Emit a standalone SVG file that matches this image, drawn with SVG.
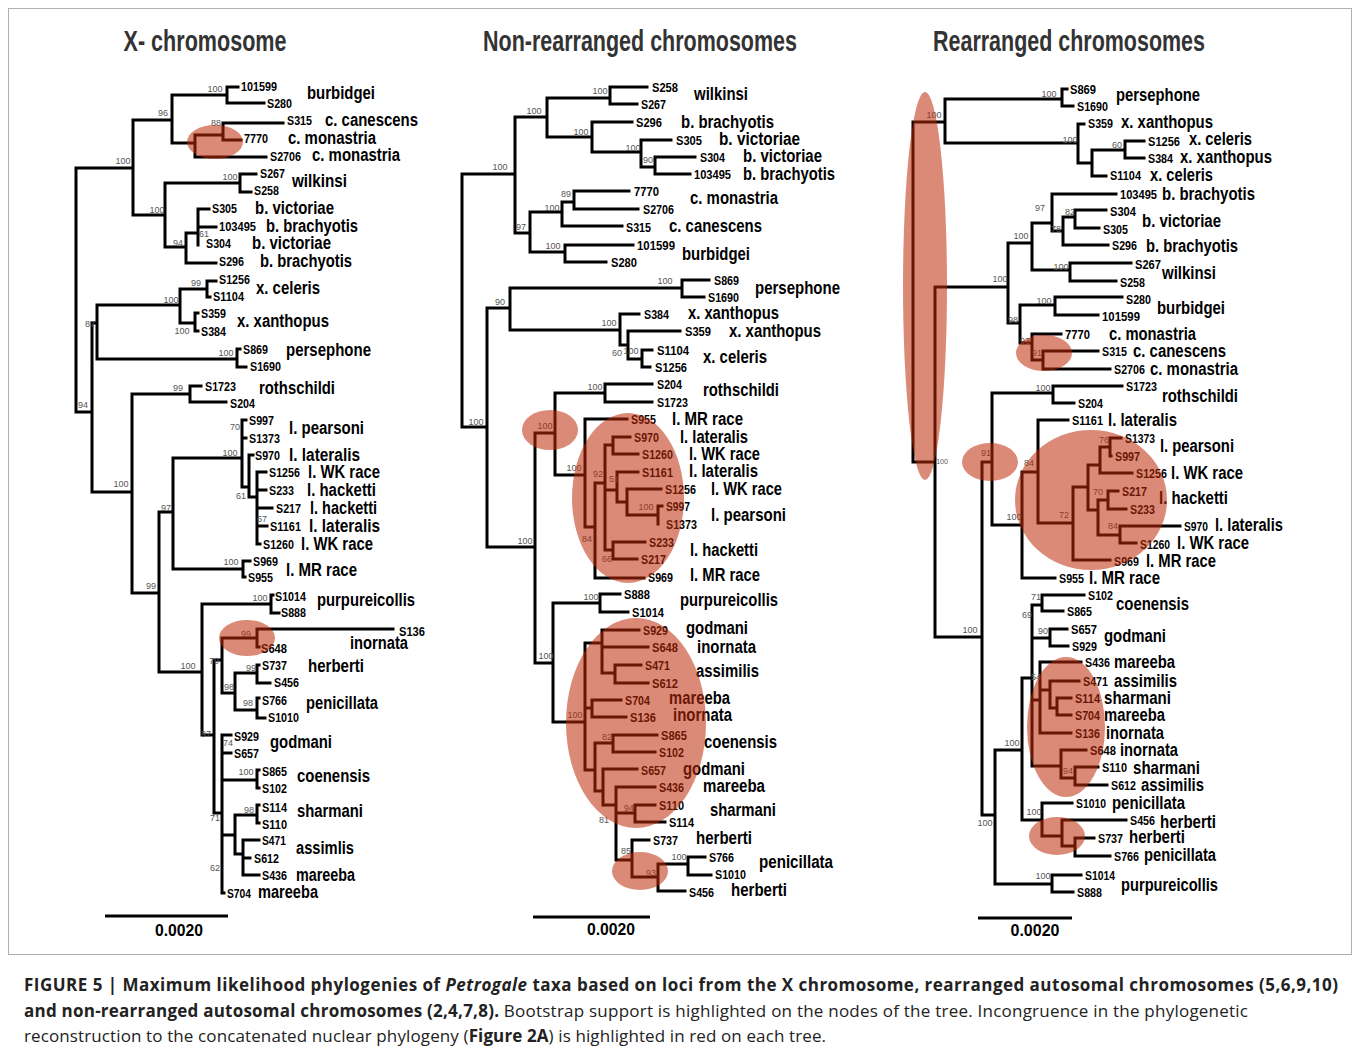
<svg xmlns="http://www.w3.org/2000/svg" width="1358" height="1053" viewBox="0 0 1358 1053">
<style>
.br{fill:none;stroke:#000;stroke-width:3;stroke-linecap:square;stroke-linejoin:miter}
.s{font-family:"Liberation Sans","DejaVu Sans",sans-serif;font-weight:bold;font-size:13px;fill:#000}
.p{font-family:"Liberation Sans","DejaVu Sans",sans-serif;font-weight:bold;font-size:18px;fill:#000}
.b{font-family:"Liberation Sans","DejaVu Sans",sans-serif;font-size:9px;fill:#555;text-anchor:middle}
.h{font-family:"Liberation Sans","DejaVu Sans",sans-serif;font-weight:bold;font-size:30px;fill:#333;text-anchor:middle}
.sb{font-family:"Liberation Sans","DejaVu Sans",sans-serif;font-weight:bold;font-size:16px;fill:#000;text-anchor:middle}
.c{font-family:"Open Sans","Liberation Sans",sans-serif;font-size:17px;fill:#222}
.cb{font-weight:bold}
.hl{fill:#be2a08;opacity:0.55}
.sc{fill:none;stroke:#000;stroke-width:3}
</style>
<rect x="0" y="0" width="1358" height="1053" fill="#fff"/>
<rect x="8.5" y="8.5" width="1343" height="946" fill="none" stroke="#b0b0b0" stroke-width="1"/>

<g id="headers">
<text class="h" x="205" y="51" textLength="163" lengthAdjust="spacingAndGlyphs">X- chromosome</text>
<text class="h" x="640" y="51" textLength="314" lengthAdjust="spacingAndGlyphs">Non-rearranged chromosomes</text>
<text class="h" x="1069" y="51" textLength="272" lengthAdjust="spacingAndGlyphs">Rearranged chromosomes</text>
</g>

<!-- TREE 1 -->
<g id="tree1">
<g id="t1-connectors">
<path class="br" d="M76 168V412M76 168H133M133 120V215M133 120H172M172 95V143M172 95H227M227 87V103M227 87H238M227 103H264M172 143H195M195 135V157M195 135H223M223 123V140M223 123H283M223 140H241M195 157H266M133 215H165M165 183V247M165 183H240M240 174V192M240 174H256M240 192H251M165 247H186M186 233V263M186 233H198M198 209V245M198 209H209M198 227H216M186 263H216M76 412H92M92 323V492M92 323H97M97 305V359M97 305H180M180 289V323M180 289H207M207 281V297M207 281H216M207 297H210M180 323H195M195 313V331M195 313H198M195 331H198M97 359H237M237 349V367M237 349H240M237 367H246M92 492H132M132 394V593M132 394H190M190 386V402M190 386H201M190 402H226M132 593H159M159 512V672M159 512H173M173 458V569M173 458H242M242 420V487M242 420H246M242 438H246M242 487H249M249 455V497M249 455H253M249 497H257M257 472V544M257 472H266M257 490H266M257 508H272M257 526H267M257 544H260M173 569H243M243 561V577M243 561H250M243 577H245M159 672H202M202 604V735M202 604H271M271 595V613M271 595H273M271 613H279M202 735H214M214 660V813M214 660H222M222 638V693M222 638H257M257 629V647M257 629H393M257 647H259M222 693H235M235 673V710M235 673H257M257 665V683M257 665H259M257 683H270M235 710H257M257 698V718M257 698H259M257 718H265M214 813H222M222 735V893M222 735H231M222 753H231M222 780H257M257 770V788M257 770H259M257 788H259M222 835H235M235 815V854M235 815H257M257 805V823M257 805H259M257 823H259M235 854H243M243 840V875M243 840H259M243 858H250M243 875H259M222 893H224"/>
</g>
<g id="t1-support">
<text class="b" x="215" y="92">100</text><text class="b" x="163" y="116">96</text><text class="b" x="216" y="126">88</text><text class="b" x="123" y="164">100</text><text class="b" x="230" y="180">100</text><text class="b" x="157" y="213">100</text><text class="b" x="204" y="237">61</text><text class="b" x="178" y="246">94</text><text class="b" x="196" y="286">99</text><text class="b" x="171" y="303">100</text><text class="b" x="90" y="327">87</text><text class="b" x="182" y="334">100</text><text class="b" x="226" y="356">100</text><text class="b" x="178" y="391">99</text><text class="b" x="83" y="408">94</text><text class="b" x="235" y="430">70</text><text class="b" x="230" y="456">100</text><text class="b" x="121" y="487">100</text><text class="b" x="241" y="499">61</text><text class="b" x="166" y="511">97</text><text class="b" x="262" y="522">67</text><text class="b" x="231" y="565">100</text><text class="b" x="151" y="589">99</text><text class="b" x="260" y="601">100</text><text class="b" x="246" y="637">99</text><text class="b" x="214" y="664">79</text><text class="b" x="188" y="669">100</text><text class="b" x="251" y="671">99</text><text class="b" x="229" y="690">98</text><text class="b" x="248" y="706">98</text><text class="b" x="206" y="737">97</text><text class="b" x="228" y="746">74</text><text class="b" x="246" y="775">100</text><text class="b" x="249" y="813">98</text><text class="b" x="215" y="821">71</text><text class="b" x="215" y="871">62</text>
</g>
<g id="t1-burbidgei"><text class="s" x="241" y="91" textLength="36" lengthAdjust="spacingAndGlyphs">101599</text><text class="s" x="267" y="108" textLength="25" lengthAdjust="spacingAndGlyphs">S280</text><text class="p" x="307" y="99" textLength="68" lengthAdjust="spacingAndGlyphs">burbidgei</text></g>
<g id="t1-c-canescens"><text class="s" x="287" y="125" textLength="25" lengthAdjust="spacingAndGlyphs">S315</text><text class="p" x="325" y="126" textLength="93" lengthAdjust="spacingAndGlyphs">c. canescens</text></g>
<g id="t1-c-monastria-1"><text class="s" x="244" y="143" textLength="24" lengthAdjust="spacingAndGlyphs">7770</text><text class="p" x="288" y="144" textLength="88" lengthAdjust="spacingAndGlyphs">c. monastria</text></g>
<g id="t1-c-monastria-2"><text class="s" x="270" y="161" textLength="31" lengthAdjust="spacingAndGlyphs">S2706</text><text class="p" x="312" y="161" textLength="88" lengthAdjust="spacingAndGlyphs">c. monastria</text></g>
<g id="t1-wilkinsi"><text class="s" x="260" y="178" textLength="25" lengthAdjust="spacingAndGlyphs">S267</text><text class="s" x="254" y="195" textLength="25" lengthAdjust="spacingAndGlyphs">S258</text><text class="p" x="292" y="187" textLength="55" lengthAdjust="spacingAndGlyphs">wilkinsi</text></g>
<g id="t1-b-victoriae-1"><text class="s" x="212" y="213" textLength="25" lengthAdjust="spacingAndGlyphs">S305</text><text class="p" x="255" y="214" textLength="79" lengthAdjust="spacingAndGlyphs">b. victoriae</text></g>
<g id="t1-b-brachyotis-1"><text class="s" x="219" y="231" textLength="37" lengthAdjust="spacingAndGlyphs">103495</text><text class="p" x="266" y="232" textLength="92" lengthAdjust="spacingAndGlyphs">b. brachyotis</text></g>
<g id="t1-b-victoriae-2"><text class="s" x="206" y="248" textLength="25" lengthAdjust="spacingAndGlyphs">S304</text><text class="p" x="252" y="249" textLength="79" lengthAdjust="spacingAndGlyphs">b. victoriae</text></g>
<g id="t1-b-brachyotis-2"><text class="s" x="219" y="266" textLength="25" lengthAdjust="spacingAndGlyphs">S296</text><text class="p" x="260" y="267" textLength="92" lengthAdjust="spacingAndGlyphs">b. brachyotis</text></g>
<g id="t1-x-celeris"><text class="s" x="219" y="284" textLength="31" lengthAdjust="spacingAndGlyphs">S1256</text><text class="s" x="213" y="301" textLength="31" lengthAdjust="spacingAndGlyphs">S1104</text><text class="p" x="256" y="294" textLength="64" lengthAdjust="spacingAndGlyphs">x. celeris</text></g>
<g id="t1-x-xanthopus"><text class="s" x="201" y="318" textLength="25" lengthAdjust="spacingAndGlyphs">S359</text><text class="s" x="201" y="336" textLength="25" lengthAdjust="spacingAndGlyphs">S384</text><text class="p" x="237" y="327" textLength="92" lengthAdjust="spacingAndGlyphs">x. xanthopus</text></g>
<g id="t1-persephone"><text class="s" x="243" y="354" textLength="25" lengthAdjust="spacingAndGlyphs">S869</text><text class="s" x="250" y="371" textLength="31" lengthAdjust="spacingAndGlyphs">S1690</text><text class="p" x="286" y="356" textLength="85" lengthAdjust="spacingAndGlyphs">persephone</text></g>
<g id="t1-rothschildi"><text class="s" x="205" y="391" textLength="31" lengthAdjust="spacingAndGlyphs">S1723</text><text class="s" x="230" y="408" textLength="25" lengthAdjust="spacingAndGlyphs">S204</text><text class="p" x="259" y="394" textLength="76" lengthAdjust="spacingAndGlyphs">rothschildi</text></g>
<g id="t1-l-pearsoni"><text class="s" x="249" y="425" textLength="25" lengthAdjust="spacingAndGlyphs">S997</text><text class="s" x="249" y="443" textLength="31" lengthAdjust="spacingAndGlyphs">S1373</text><text class="p" x="289" y="434" textLength="75" lengthAdjust="spacingAndGlyphs">l. pearsoni</text></g>
<g id="t1-l-lateralis-1"><text class="s" x="255" y="460" textLength="25" lengthAdjust="spacingAndGlyphs">S970</text><text class="p" x="289" y="461" textLength="71" lengthAdjust="spacingAndGlyphs">l. lateralis</text></g>
<g id="t1-l-wk-1"><text class="s" x="269" y="477" textLength="31" lengthAdjust="spacingAndGlyphs">S1256</text><text class="p" x="308" y="478" textLength="72" lengthAdjust="spacingAndGlyphs">l. WK race</text></g>
<g id="t1-l-hacketti-1"><text class="s" x="269" y="495" textLength="25" lengthAdjust="spacingAndGlyphs">S233</text><text class="p" x="307" y="496" textLength="69" lengthAdjust="spacingAndGlyphs">l. hacketti</text></g>
<g id="t1-l-hacketti-2"><text class="s" x="276" y="513" textLength="25" lengthAdjust="spacingAndGlyphs">S217</text><text class="p" x="310" y="514" textLength="67" lengthAdjust="spacingAndGlyphs">l. hacketti</text></g>
<g id="t1-l-lateralis-2"><text class="s" x="270" y="531" textLength="31" lengthAdjust="spacingAndGlyphs">S1161</text><text class="p" x="309" y="532" textLength="71" lengthAdjust="spacingAndGlyphs">l. lateralis</text></g>
<g id="t1-l-wk-2"><text class="s" x="263" y="549" textLength="31" lengthAdjust="spacingAndGlyphs">S1260</text><text class="p" x="301" y="550" textLength="72" lengthAdjust="spacingAndGlyphs">l. WK race</text></g>
<g id="t1-l-mr"><text class="s" x="253" y="566" textLength="25" lengthAdjust="spacingAndGlyphs">S969</text><text class="s" x="248" y="582" textLength="25" lengthAdjust="spacingAndGlyphs">S955</text><text class="p" x="286" y="576" textLength="71" lengthAdjust="spacingAndGlyphs">l. MR race</text></g>
<g id="t1-purpureicollis"><text class="s" x="275" y="601" textLength="31" lengthAdjust="spacingAndGlyphs">S1014</text><text class="s" x="281" y="617" textLength="25" lengthAdjust="spacingAndGlyphs">S888</text><text class="p" x="317" y="606" textLength="98" lengthAdjust="spacingAndGlyphs">purpureicollis</text></g>
<g id="t1-inornata"><text class="s" x="399" y="636" textLength="26" lengthAdjust="spacingAndGlyphs">S136</text><text class="s" x="261" y="653" textLength="26" lengthAdjust="spacingAndGlyphs">S648</text><text class="p" x="350" y="649" textLength="58" lengthAdjust="spacingAndGlyphs">inornata</text></g>
<g id="t1-herberti"><text class="s" x="262" y="670" textLength="25" lengthAdjust="spacingAndGlyphs">S737</text><text class="s" x="274" y="687" textLength="25" lengthAdjust="spacingAndGlyphs">S456</text><text class="p" x="308" y="672" textLength="56" lengthAdjust="spacingAndGlyphs">herberti</text></g>
<g id="t1-penicillata"><text class="s" x="262" y="705" textLength="25" lengthAdjust="spacingAndGlyphs">S766</text><text class="s" x="268" y="722" textLength="31" lengthAdjust="spacingAndGlyphs">S1010</text><text class="p" x="306" y="709" textLength="72" lengthAdjust="spacingAndGlyphs">penicillata</text></g>
<g id="t1-godmani"><text class="s" x="234" y="741" textLength="25" lengthAdjust="spacingAndGlyphs">S929</text><text class="s" x="234" y="758" textLength="25" lengthAdjust="spacingAndGlyphs">S657</text><text class="p" x="270" y="748" textLength="62" lengthAdjust="spacingAndGlyphs">godmani</text></g>
<g id="t1-coenensis"><text class="s" x="262" y="776" textLength="25" lengthAdjust="spacingAndGlyphs">S865</text><text class="s" x="262" y="793" textLength="25" lengthAdjust="spacingAndGlyphs">S102</text><text class="p" x="297" y="782" textLength="73" lengthAdjust="spacingAndGlyphs">coenensis</text></g>
<g id="t1-sharmani"><text class="s" x="262" y="812" textLength="25" lengthAdjust="spacingAndGlyphs">S114</text><text class="s" x="262" y="829" textLength="25" lengthAdjust="spacingAndGlyphs">S110</text><text class="p" x="297" y="817" textLength="66" lengthAdjust="spacingAndGlyphs">sharmani</text></g>
<g id="t1-assimlis"><text class="s" x="262" y="845" textLength="24" lengthAdjust="spacingAndGlyphs">S471</text><text class="s" x="254" y="863" textLength="25" lengthAdjust="spacingAndGlyphs">S612</text><text class="p" x="296" y="854" textLength="58" lengthAdjust="spacingAndGlyphs">assimlis</text></g>
<g id="t1-mareeba-1"><text class="s" x="262" y="880" textLength="25" lengthAdjust="spacingAndGlyphs">S436</text><text class="p" x="296" y="881" textLength="59" lengthAdjust="spacingAndGlyphs">mareeba</text></g>
<g id="t1-mareeba-2"><text class="s" x="227" y="898" textLength="24" lengthAdjust="spacingAndGlyphs">S704</text><text class="p" x="258" y="898" textLength="60" lengthAdjust="spacingAndGlyphs">mareeba</text></g>
<g id="t1-scale"><path class="sc" d="M105 916H228"/><text class="sb" x="179" y="936" textLength="48" lengthAdjust="spacingAndGlyphs">0.0020</text></g>
<g id="t1-highlights"><ellipse class="hl" cx="215" cy="142" rx="28" ry="17"/><ellipse class="hl" cx="247" cy="638" rx="28" ry="18"/></g>
</g>

<!-- TREE 2 -->
<g id="tree2">
<g id="t2-connectors">
<path class="br" d="M462 174V427M462 174H515M515 117V233M515 117H547M547 98V137M547 98H610M610 87V104M610 87H647M610 104H637M547 137H592M592 122V152M592 122H632M592 152H641M641 140V167M641 140H671M641 167H655M655 157V174M655 157H695M655 174H690M515 233H530M530 212V252M530 212H562M562 202V226M562 202H574M574 191V209M574 191H629M574 209H638M562 226H622M530 252H565M565 245V262M565 245H633M565 262H606M462 427H487M487 308V547M487 308H510M510 288V330M510 288H682M682 280V297M682 280H709M682 297H704M510 330H620M620 314V345M620 314H639M620 345H628M628 331V359M628 331H680M628 359H642M642 350V367M642 350H652M642 367H650M487 547H535M535 433V663M535 433H555M555 393V475M555 393H605M605 384V402M605 384H652M605 402H652M555 475H585M585 419V527M585 419H627M585 527H595M595 483V578M595 483H605M605 445V550M605 445H613M613 437V454M613 437H630M613 454H638M605 490H617M617 472V502M617 472H638M617 502H627M627 489V515M627 489H661M627 515H658M658 506V524M658 506H662M605 550H613M613 542V559M613 542H645M613 559H637M595 578H644M535 663H553M553 603V722M553 603H600M600 594V612M600 594H620M600 612H628M553 722H585M585 643V770M585 643H602M602 630V673M602 630H639M602 647H648M602 673H615M615 665V683M615 665H641M615 683H648M585 708H592M592 700V717M592 700H621M592 717H626M585 770H595M595 743V791M595 743H613M613 735V752M613 735H657M613 752H655M595 791H603M603 769V805M603 769H637M603 805H616M616 787V860M616 787H655M616 813H635M635 805V822M635 805H655M635 822H665M616 860H632M632 840V877M632 840H649M632 877H658M658 864V891M658 864H688M688 857V875M688 857H705M688 875H711M658 891H685"/>
</g>
<g id="t2-support">
<text class="b" x="600" y="94">100</text><text class="b" x="534" y="114">100</text><text class="b" x="581" y="135">100</text><text class="b" x="633" y="151">100</text><text class="b" x="648" y="163">90</text><text class="b" x="500" y="170">100</text><text class="b" x="566" y="197">89</text><text class="b" x="552" y="211">100</text><text class="b" x="521" y="230">97</text><text class="b" x="553" y="249">100</text><text class="b" x="665" y="284">100</text><text class="b" x="500" y="305">90</text><text class="b" x="609" y="326">100</text><text class="b" x="617" y="356">60</text><text class="b" x="631" y="354">100</text><text class="b" x="595" y="390">100</text><text class="b" x="476" y="425">100</text><text class="b" x="545" y="429">100</text><text class="b" x="574" y="471">100</text><text class="b" x="598" y="477">92</text><text class="b" x="614" y="482">51</text><text class="b" x="646" y="510">100</text><text class="b" x="525" y="544">100</text><text class="b" x="587" y="542">84</text><text class="b" x="607" y="562">66</text><text class="b" x="591" y="600">100</text><text class="b" x="546" y="659">100</text><text class="b" x="575" y="718">100</text><text class="b" x="607" y="740">82</text><text class="b" x="629" y="811">94</text><text class="b" x="604" y="823">81</text><text class="b" x="626" y="854">85</text><text class="b" x="679" y="860">100</text><text class="b" x="651" y="876">93</text>
</g>
<g id="t2-wilkinsi"><text class="s" x="652" y="92" textLength="26" lengthAdjust="spacingAndGlyphs">S258</text><text class="s" x="641" y="109" textLength="25" lengthAdjust="spacingAndGlyphs">S267</text><text class="p" x="694" y="100" textLength="54" lengthAdjust="spacingAndGlyphs">wilkinsi</text></g>
<g id="t2-b-brachyotis-1"><text class="s" x="636" y="127" textLength="26" lengthAdjust="spacingAndGlyphs">S296</text><text class="p" x="681" y="128" textLength="93" lengthAdjust="spacingAndGlyphs">b. brachyotis</text></g>
<g id="t2-b-victoriae-1"><text class="s" x="676" y="145" textLength="26" lengthAdjust="spacingAndGlyphs">S305</text><text class="p" x="719" y="145" textLength="81" lengthAdjust="spacingAndGlyphs">b. victoriae</text></g>
<g id="t2-b-victoriae-2"><text class="s" x="700" y="162" textLength="25" lengthAdjust="spacingAndGlyphs">S304</text><text class="p" x="743" y="162" textLength="79" lengthAdjust="spacingAndGlyphs">b. victoriae</text></g>
<g id="t2-b-brachyotis-2"><text class="s" x="694" y="179" textLength="37" lengthAdjust="spacingAndGlyphs">103495</text><text class="p" x="743" y="180" textLength="92" lengthAdjust="spacingAndGlyphs">b. brachyotis</text></g>
<g id="t2-c-monastria"><text class="s" x="634" y="196" textLength="25" lengthAdjust="spacingAndGlyphs">7770</text><text class="s" x="643" y="214" textLength="31" lengthAdjust="spacingAndGlyphs">S2706</text><text class="p" x="690" y="204" textLength="88" lengthAdjust="spacingAndGlyphs">c. monastria</text></g>
<g id="t2-c-canescens"><text class="s" x="626" y="232" textLength="25" lengthAdjust="spacingAndGlyphs">S315</text><text class="p" x="669" y="232" textLength="93" lengthAdjust="spacingAndGlyphs">c. canescens</text></g>
<g id="t2-burbidgei"><text class="s" x="637" y="250" textLength="38" lengthAdjust="spacingAndGlyphs">101599</text><text class="s" x="611" y="267" textLength="26" lengthAdjust="spacingAndGlyphs">S280</text><text class="p" x="682" y="260" textLength="68" lengthAdjust="spacingAndGlyphs">burbidgei</text></g>
<g id="t2-persephone"><text class="s" x="714" y="285" textLength="25" lengthAdjust="spacingAndGlyphs">S869</text><text class="s" x="708" y="302" textLength="31" lengthAdjust="spacingAndGlyphs">S1690</text><text class="p" x="755" y="294" textLength="85" lengthAdjust="spacingAndGlyphs">persephone</text></g>
<g id="t2-x-xanthopus-1"><text class="s" x="644" y="319" textLength="25" lengthAdjust="spacingAndGlyphs">S384</text><text class="p" x="688" y="319" textLength="91" lengthAdjust="spacingAndGlyphs">x. xanthopus</text></g>
<g id="t2-x-xanthopus-2"><text class="s" x="685" y="336" textLength="26" lengthAdjust="spacingAndGlyphs">S359</text><text class="p" x="729" y="337" textLength="92" lengthAdjust="spacingAndGlyphs">x. xanthopus</text></g>
<g id="t2-x-celeris"><text class="s" x="657" y="355" textLength="32" lengthAdjust="spacingAndGlyphs">S1104</text><text class="s" x="655" y="372" textLength="32" lengthAdjust="spacingAndGlyphs">S1256</text><text class="p" x="703" y="363" textLength="64" lengthAdjust="spacingAndGlyphs">x. celeris</text></g>
<g id="t2-rothschildi"><text class="s" x="657" y="389" textLength="25" lengthAdjust="spacingAndGlyphs">S204</text><text class="s" x="657" y="407" textLength="31" lengthAdjust="spacingAndGlyphs">S1723</text><text class="p" x="703" y="396" textLength="76" lengthAdjust="spacingAndGlyphs">rothschildi</text></g>
<g id="t2-l-mr-1"><text class="s" x="631" y="424" textLength="25" lengthAdjust="spacingAndGlyphs">S955</text><text class="p" x="672" y="425" textLength="71" lengthAdjust="spacingAndGlyphs">l. MR race</text></g>
<g id="t2-l-lateralis-1"><text class="s" x="634" y="442" textLength="25" lengthAdjust="spacingAndGlyphs">S970</text><text class="p" x="680" y="443" textLength="68" lengthAdjust="spacingAndGlyphs">l. lateralis</text></g>
<g id="t2-l-wk-1"><text class="s" x="642" y="459" textLength="31" lengthAdjust="spacingAndGlyphs">S1260</text><text class="p" x="689" y="460" textLength="71" lengthAdjust="spacingAndGlyphs">l. WK race</text></g>
<g id="t2-l-lateralis-2"><text class="s" x="642" y="477" textLength="31" lengthAdjust="spacingAndGlyphs">S1161</text><text class="p" x="689" y="477" textLength="69" lengthAdjust="spacingAndGlyphs">l. lateralis</text></g>
<g id="t2-l-wk-2"><text class="s" x="665" y="494" textLength="31" lengthAdjust="spacingAndGlyphs">S1256</text><text class="p" x="711" y="495" textLength="71" lengthAdjust="spacingAndGlyphs">l. WK race</text></g>
<g id="t2-l-pearsoni"><text class="s" x="666" y="511" textLength="24" lengthAdjust="spacingAndGlyphs">S997</text><text class="s" x="666" y="529" textLength="31" lengthAdjust="spacingAndGlyphs">S1373</text><text class="p" x="711" y="521" textLength="75" lengthAdjust="spacingAndGlyphs">l. pearsoni</text></g>
<g id="t2-l-hacketti"><text class="s" x="649" y="547" textLength="25" lengthAdjust="spacingAndGlyphs">S233</text><text class="s" x="641" y="564" textLength="25" lengthAdjust="spacingAndGlyphs">S217</text><text class="p" x="690" y="556" textLength="68" lengthAdjust="spacingAndGlyphs">l. hacketti</text></g>
<g id="t2-l-mr-2"><text class="s" x="648" y="582" textLength="25" lengthAdjust="spacingAndGlyphs">S969</text><text class="p" x="690" y="581" textLength="70" lengthAdjust="spacingAndGlyphs">l. MR race</text></g>
<g id="t2-purpureicollis"><text class="s" x="624" y="599" textLength="26" lengthAdjust="spacingAndGlyphs">S888</text><text class="s" x="632" y="617" textLength="32" lengthAdjust="spacingAndGlyphs">S1014</text><text class="p" x="680" y="606" textLength="98" lengthAdjust="spacingAndGlyphs">purpureicollis</text></g>
<g id="t2-godmani-1"><text class="s" x="643" y="635" textLength="25" lengthAdjust="spacingAndGlyphs">S929</text><text class="p" x="686" y="634" textLength="62" lengthAdjust="spacingAndGlyphs">godmani</text></g>
<g id="t2-inornata-1"><text class="s" x="652" y="652" textLength="26" lengthAdjust="spacingAndGlyphs">S648</text><text class="p" x="697" y="653" textLength="59" lengthAdjust="spacingAndGlyphs">inornata</text></g>
<g id="t2-assimilis"><text class="s" x="645" y="670" textLength="25" lengthAdjust="spacingAndGlyphs">S471</text><text class="s" x="652" y="688" textLength="26" lengthAdjust="spacingAndGlyphs">S612</text><text class="p" x="696" y="677" textLength="63" lengthAdjust="spacingAndGlyphs">assimilis</text></g>
<g id="t2-mareeba-1"><text class="s" x="625" y="705" textLength="25" lengthAdjust="spacingAndGlyphs">S704</text><text class="p" x="669" y="704" textLength="61" lengthAdjust="spacingAndGlyphs">mareeba</text></g>
<g id="t2-inornata-2"><text class="s" x="630" y="722" textLength="26" lengthAdjust="spacingAndGlyphs">S136</text><text class="p" x="673" y="721" textLength="59" lengthAdjust="spacingAndGlyphs">inornata</text></g>
<g id="t2-coenensis"><text class="s" x="661" y="740" textLength="26" lengthAdjust="spacingAndGlyphs">S865</text><text class="s" x="659" y="757" textLength="25" lengthAdjust="spacingAndGlyphs">S102</text><text class="p" x="704" y="748" textLength="73" lengthAdjust="spacingAndGlyphs">coenensis</text></g>
<g id="t2-godmani-2"><text class="s" x="641" y="775" textLength="25" lengthAdjust="spacingAndGlyphs">S657</text><text class="p" x="683" y="775" textLength="62" lengthAdjust="spacingAndGlyphs">godmani</text></g>
<g id="t2-mareeba-2"><text class="s" x="659" y="792" textLength="25" lengthAdjust="spacingAndGlyphs">S436</text><text class="p" x="703" y="792" textLength="62" lengthAdjust="spacingAndGlyphs">mareeba</text></g>
<g id="t2-sharmani"><text class="s" x="659" y="810" textLength="25" lengthAdjust="spacingAndGlyphs">S110</text><text class="s" x="669" y="827" textLength="25" lengthAdjust="spacingAndGlyphs">S114</text><text class="p" x="710" y="816" textLength="66" lengthAdjust="spacingAndGlyphs">sharmani</text></g>
<g id="t2-herberti-1"><text class="s" x="653" y="845" textLength="25" lengthAdjust="spacingAndGlyphs">S737</text><text class="p" x="696" y="844" textLength="56" lengthAdjust="spacingAndGlyphs">herberti</text></g>
<g id="t2-penicillata"><text class="s" x="709" y="862" textLength="25" lengthAdjust="spacingAndGlyphs">S766</text><text class="s" x="715" y="879" textLength="31" lengthAdjust="spacingAndGlyphs">S1010</text><text class="p" x="759" y="868" textLength="74" lengthAdjust="spacingAndGlyphs">penicillata</text></g>
<g id="t2-herberti-2"><text class="s" x="689" y="897" textLength="25" lengthAdjust="spacingAndGlyphs">S456</text><text class="p" x="731" y="896" textLength="56" lengthAdjust="spacingAndGlyphs">herberti</text></g>
<g id="t2-scale"><path class="sc" d="M533 917H650"/><text class="sb" x="611" y="935" textLength="48" lengthAdjust="spacingAndGlyphs">0.0020</text></g>
<g id="t2-highlights"><ellipse class="hl" cx="550" cy="430" rx="28" ry="20"/><ellipse class="hl" cx="628" cy="498" rx="56" ry="85"/><ellipse class="hl" cx="636" cy="723" rx="70" ry="105"/><ellipse class="hl" cx="640" cy="871" rx="28" ry="19"/></g>
</g>

<!-- TREE 3 -->
<g id="tree3">
<g id="t3-connectors">
<path class="br" d="M913 122V462M913 122H945M945 99V143M945 99H1062M1062 89V106M1062 89H1067M1062 106H1073M945 143H1078M1078 124V163M1078 124H1084M1078 163H1092M1092 150V176M1092 150H1125M1125 141V158M1125 141H1144M1125 158H1144M1092 176H1106M913 462H935M935 287V637M935 287H1008M1008 243V323M1008 243H1032M1032 223V270M1032 223H1052M1052 194V231M1052 194H1116M1052 231H1063M1063 217V245M1063 217H1075M1075 210V228M1075 210H1106M1075 228H1099M1063 245H1108M1032 270H1070M1070 263V281M1070 263H1131M1070 281H1116M1008 323H1020M1020 305V343M1020 305H1055M1055 297V315M1055 297H1122M1055 315H1098M1020 343H1032M1032 334V360M1032 334H1061M1032 360H1043M1043 351V369M1043 351H1098M1043 369H1110M935 637H982M982 462V815M982 462H992M992 393V525M992 393H1053M1053 386V403M1053 386H1122M1053 403H1074M992 525H1022M1022 472V578M1022 472H1038M1038 420V523M1038 420H1068M1038 523H1073M1073 487V560M1073 487H1088M1088 465V510M1088 465H1100M1100 447V473M1100 447H1110M1110 438V456M1110 438H1121M1110 456H1111M1100 473H1132M1088 510H1098M1098 500V535M1098 500H1108M1108 491V509M1108 491H1118M1108 509H1126M1098 535H1120M1120 526V543M1120 526H1180M1120 543H1136M1073 560H1110M1022 578H1055M982 815H995M995 750V884M995 750H1022M1022 678V820M1022 678H1032M1032 605V766M1032 605H1042M1042 595V611M1042 595H1084M1042 611H1063M1032 638H1050M1050 629V646M1050 629H1067M1050 646H1068M1032 700H1040M1040 662V733M1040 662H1081M1040 690H1050M1050 681V708M1050 681H1079M1050 708H1057M1057 698V715M1057 698H1071M1057 715H1071M1040 733H1071M1032 766H1061M1061 750V778M1061 750H1086M1061 778H1075M1075 767V785M1075 767H1098M1075 785H1107M1022 820H1042M1042 803V836M1042 803H1072M1042 836H1062M1062 820V846M1062 820H1126M1062 846H1075M1075 838V856M1075 838H1094M1075 856H1110M995 884H1052M1052 875V892M1052 875H1081M1052 892H1073"/>
</g>
<g id="t3-support">
<text class="b" x="1049" y="97">100</text><text class="b" x="934" y="118">100</text><text class="b" x="1070" y="143">100</text><text class="b" x="1117" y="148">60</text><text class="b" x="1040" y="211">97</text><text class="b" x="1070" y="215">82</text><text class="b" x="1056" y="232">78</text><text class="b" x="1021" y="239">100</text><text class="b" x="1061" y="270">100</text><text class="b" x="1000" y="282">100</text><text class="b" x="1044" y="304">100</text><text class="b" x="1013" y="323">98</text><text class="b" x="1025" y="344">93</text><text class="b" x="1037" y="356">91</text><text class="b" x="1043" y="391">100</text><text class="b" x="1104" y="443">76</text><text class="b" x="986" y="456">91</text><text class="b" x="942" y="464" style="font-size:7px">100</text><text class="b" x="1029" y="466">84</text><text class="b" x="1098" y="495">70</text><text class="b" x="1014" y="520">100</text><text class="b" x="1064" y="518">72</text><text class="b" x="1113" y="529">84</text><text class="b" x="1036" y="600">71</text><text class="b" x="1027" y="618">69</text><text class="b" x="970" y="633">100</text><text class="b" x="1043" y="634">90</text><text class="b" x="1036" y="680">54</text><text class="b" x="1012" y="746">100</text><text class="b" x="1068" y="774">94</text><text class="b" x="1034" y="815">100</text><text class="b" x="985" y="826">100</text><text class="b" x="1043" y="879">100</text>
</g>
<g id="t3-persephone"><text class="s" x="1070" y="94" textLength="26" lengthAdjust="spacingAndGlyphs">S869</text><text class="s" x="1077" y="111" textLength="31" lengthAdjust="spacingAndGlyphs">S1690</text><text class="p" x="1116" y="101" textLength="84" lengthAdjust="spacingAndGlyphs">persephone</text></g>
<g id="t3-x-xanthopus-1"><text class="s" x="1088" y="128" textLength="25" lengthAdjust="spacingAndGlyphs">S359</text><text class="p" x="1121" y="128" textLength="92" lengthAdjust="spacingAndGlyphs">x. xanthopus</text></g>
<g id="t3-x-celeris-1"><text class="s" x="1148" y="146" textLength="32" lengthAdjust="spacingAndGlyphs">S1256</text><text class="p" x="1189" y="145" textLength="63" lengthAdjust="spacingAndGlyphs">x. celeris</text></g>
<g id="t3-x-xanthopus-2"><text class="s" x="1148" y="163" textLength="25" lengthAdjust="spacingAndGlyphs">S384</text><text class="p" x="1180" y="163" textLength="92" lengthAdjust="spacingAndGlyphs">x. xanthopus</text></g>
<g id="t3-x-celeris-2"><text class="s" x="1110" y="180" textLength="31" lengthAdjust="spacingAndGlyphs">S1104</text><text class="p" x="1150" y="181" textLength="63" lengthAdjust="spacingAndGlyphs">x. celeris</text></g>
<g id="t3-b-brachyotis-1"><text class="s" x="1120" y="199" textLength="37" lengthAdjust="spacingAndGlyphs">103495</text><text class="p" x="1162" y="200" textLength="93" lengthAdjust="spacingAndGlyphs">b. brachyotis</text></g>
<g id="t3-b-victoriae"><text class="s" x="1110" y="216" textLength="26" lengthAdjust="spacingAndGlyphs">S304</text><text class="s" x="1103" y="234" textLength="25" lengthAdjust="spacingAndGlyphs">S305</text><text class="p" x="1142" y="227" textLength="79" lengthAdjust="spacingAndGlyphs">b. victoriae</text></g>
<g id="t3-b-brachyotis-2"><text class="s" x="1112" y="250" textLength="25" lengthAdjust="spacingAndGlyphs">S296</text><text class="p" x="1146" y="252" textLength="92" lengthAdjust="spacingAndGlyphs">b. brachyotis</text></g>
<g id="t3-wilkinsi"><text class="s" x="1135" y="269" textLength="26" lengthAdjust="spacingAndGlyphs">S267</text><text class="s" x="1120" y="287" textLength="25" lengthAdjust="spacingAndGlyphs">S258</text><text class="p" x="1162" y="279" textLength="54" lengthAdjust="spacingAndGlyphs">wilkinsi</text></g>
<g id="t3-burbidgei"><text class="s" x="1126" y="304" textLength="25" lengthAdjust="spacingAndGlyphs">S280</text><text class="s" x="1102" y="321" textLength="38" lengthAdjust="spacingAndGlyphs">101599</text><text class="p" x="1157" y="314" textLength="68" lengthAdjust="spacingAndGlyphs">burbidgei</text></g>
<g id="t3-c-monastria-1"><text class="s" x="1065" y="339" textLength="25" lengthAdjust="spacingAndGlyphs">7770</text><text class="p" x="1109" y="340" textLength="87" lengthAdjust="spacingAndGlyphs">c. monastria</text></g>
<g id="t3-c-canescens"><text class="s" x="1102" y="356" textLength="25" lengthAdjust="spacingAndGlyphs">S315</text><text class="p" x="1133" y="357" textLength="93" lengthAdjust="spacingAndGlyphs">c. canescens</text></g>
<g id="t3-c-monastria-2"><text class="s" x="1114" y="374" textLength="31" lengthAdjust="spacingAndGlyphs">S2706</text><text class="p" x="1150" y="375" textLength="88" lengthAdjust="spacingAndGlyphs">c. monastria</text></g>
<g id="t3-rothschildi"><text class="s" x="1126" y="391" textLength="31" lengthAdjust="spacingAndGlyphs">S1723</text><text class="s" x="1078" y="408" textLength="25" lengthAdjust="spacingAndGlyphs">S204</text><text class="p" x="1162" y="402" textLength="76" lengthAdjust="spacingAndGlyphs">rothschildi</text></g>
<g id="t3-l-lateralis-1"><text class="s" x="1072" y="425" textLength="31" lengthAdjust="spacingAndGlyphs">S1161</text><text class="p" x="1108" y="426" textLength="69" lengthAdjust="spacingAndGlyphs">l. lateralis</text></g>
<g id="t3-l-pearsoni"><text class="s" x="1125" y="443" textLength="30" lengthAdjust="spacingAndGlyphs">S1373</text><text class="s" x="1115" y="461" textLength="25" lengthAdjust="spacingAndGlyphs">S997</text><text class="p" x="1160" y="452" textLength="74" lengthAdjust="spacingAndGlyphs">l. pearsoni</text></g>
<g id="t3-l-wk-1"><text class="s" x="1136" y="478" textLength="31" lengthAdjust="spacingAndGlyphs">S1256</text><text class="p" x="1171" y="479" textLength="72" lengthAdjust="spacingAndGlyphs">l. WK race</text></g>
<g id="t3-l-hacketti"><text class="s" x="1122" y="496" textLength="25" lengthAdjust="spacingAndGlyphs">S217</text><text class="s" x="1130" y="514" textLength="25" lengthAdjust="spacingAndGlyphs">S233</text><text class="p" x="1159" y="504" textLength="69" lengthAdjust="spacingAndGlyphs">l. hacketti</text></g>
<g id="t3-l-lateralis-2"><text class="s" x="1184" y="531" textLength="24" lengthAdjust="spacingAndGlyphs">S970</text><text class="p" x="1215" y="531" textLength="68" lengthAdjust="spacingAndGlyphs">l. lateralis</text></g>
<g id="t3-l-wk-2"><text class="s" x="1140" y="549" textLength="30" lengthAdjust="spacingAndGlyphs">S1260</text><text class="p" x="1177" y="549" textLength="72" lengthAdjust="spacingAndGlyphs">l. WK race</text></g>
<g id="t3-l-mr-1"><text class="s" x="1114" y="566" textLength="25" lengthAdjust="spacingAndGlyphs">S969</text><text class="p" x="1146" y="567" textLength="70" lengthAdjust="spacingAndGlyphs">l. MR race</text></g>
<g id="t3-l-mr-2"><text class="s" x="1059" y="583" textLength="25" lengthAdjust="spacingAndGlyphs">S955</text><text class="p" x="1089" y="584" textLength="71" lengthAdjust="spacingAndGlyphs">l. MR race</text></g>
<g id="t3-coenensis"><text class="s" x="1088" y="600" textLength="25" lengthAdjust="spacingAndGlyphs">S102</text><text class="s" x="1067" y="616" textLength="25" lengthAdjust="spacingAndGlyphs">S865</text><text class="p" x="1116" y="610" textLength="73" lengthAdjust="spacingAndGlyphs">coenensis</text></g>
<g id="t3-godmani"><text class="s" x="1071" y="634" textLength="26" lengthAdjust="spacingAndGlyphs">S657</text><text class="s" x="1072" y="651" textLength="25" lengthAdjust="spacingAndGlyphs">S929</text><text class="p" x="1104" y="642" textLength="62" lengthAdjust="spacingAndGlyphs">godmani</text></g>
<g id="t3-mareeba-1"><text class="s" x="1085" y="667" textLength="25" lengthAdjust="spacingAndGlyphs">S436</text><text class="p" x="1114" y="668" textLength="61" lengthAdjust="spacingAndGlyphs">mareeba</text></g>
<g id="t3-assimilis-1"><text class="s" x="1083" y="686" textLength="25" lengthAdjust="spacingAndGlyphs">S471</text><text class="p" x="1114" y="687" textLength="63" lengthAdjust="spacingAndGlyphs">assimilis</text></g>
<g id="t3-sharmani-1"><text class="s" x="1075" y="703" textLength="25" lengthAdjust="spacingAndGlyphs">S114</text><text class="p" x="1104" y="704" textLength="67" lengthAdjust="spacingAndGlyphs">sharmani</text></g>
<g id="t3-mareeba-2"><text class="s" x="1075" y="720" textLength="25" lengthAdjust="spacingAndGlyphs">S704</text><text class="p" x="1104" y="721" textLength="61" lengthAdjust="spacingAndGlyphs">mareeba</text></g>
<g id="t3-inornata-1"><text class="s" x="1075" y="738" textLength="25" lengthAdjust="spacingAndGlyphs">S136</text><text class="p" x="1106" y="739" textLength="58" lengthAdjust="spacingAndGlyphs">inornata</text></g>
<g id="t3-inornata-2"><text class="s" x="1090" y="755" textLength="26" lengthAdjust="spacingAndGlyphs">S648</text><text class="p" x="1120" y="756" textLength="58" lengthAdjust="spacingAndGlyphs">inornata</text></g>
<g id="t3-sharmani-2"><text class="s" x="1102" y="772" textLength="25" lengthAdjust="spacingAndGlyphs">S110</text><text class="p" x="1133" y="774" textLength="67" lengthAdjust="spacingAndGlyphs">sharmani</text></g>
<g id="t3-assimilis-2"><text class="s" x="1111" y="790" textLength="25" lengthAdjust="spacingAndGlyphs">S612</text><text class="p" x="1141" y="791" textLength="63" lengthAdjust="spacingAndGlyphs">assimilis</text></g>
<g id="t3-penicillata-1"><text class="s" x="1076" y="808" textLength="30" lengthAdjust="spacingAndGlyphs">S1010</text><text class="p" x="1112" y="809" textLength="73" lengthAdjust="spacingAndGlyphs">penicillata</text></g>
<g id="t3-herberti-1"><text class="s" x="1130" y="825" textLength="25" lengthAdjust="spacingAndGlyphs">S456</text><text class="p" x="1160" y="828" textLength="56" lengthAdjust="spacingAndGlyphs">herberti</text></g>
<g id="t3-herberti-2"><text class="s" x="1098" y="843" textLength="25" lengthAdjust="spacingAndGlyphs">S737</text><text class="p" x="1129" y="843" textLength="56" lengthAdjust="spacingAndGlyphs">herberti</text></g>
<g id="t3-penicillata-2"><text class="s" x="1114" y="861" textLength="25" lengthAdjust="spacingAndGlyphs">S766</text><text class="p" x="1144" y="861" textLength="72" lengthAdjust="spacingAndGlyphs">penicillata</text></g>
<g id="t3-purpureicollis"><text class="s" x="1085" y="880" textLength="30" lengthAdjust="spacingAndGlyphs">S1014</text><text class="s" x="1077" y="897" textLength="25" lengthAdjust="spacingAndGlyphs">S888</text><text class="p" x="1121" y="891" textLength="97" lengthAdjust="spacingAndGlyphs">purpureicollis</text></g>
<g id="t3-scale"><path class="sc" d="M978 918H1072"/><text class="sb" x="1035" y="936" textLength="49" lengthAdjust="spacingAndGlyphs">0.0020</text></g>
<g id="t3-highlights"><ellipse class="hl" cx="925" cy="286" rx="22" ry="194"/><ellipse class="hl" cx="1044" cy="353" rx="28" ry="18"/><ellipse class="hl" cx="990" cy="462" rx="28" ry="19"/><ellipse class="hl" cx="1091" cy="500" rx="76" ry="70"/><ellipse class="hl" cx="1066" cy="727" rx="39" ry="70"/><ellipse class="hl" cx="1057" cy="836" rx="28" ry="19"/></g>
</g>

<g id="caption">
<text class="c" x="24" y="991" textLength="1314" lengthAdjust="spacing"><tspan class="cb">FIGURE 5 | Maximum likelihood phylogenies of </tspan><tspan class="cb" font-style="italic">Petrogale</tspan><tspan class="cb"> taxa based on loci from the X chromosome, rearranged autosomal chromosomes (5,6,9,10)</tspan></text>
<text class="c" x="24" y="1017" textLength="1224" lengthAdjust="spacing"><tspan class="cb">and non-rearranged autosomal chromosomes (2,4,7,8).</tspan> Bootstrap support is highlighted on the nodes of the tree. Incongruence in the phylogenetic</text>
<text class="c" x="24" y="1042" textLength="802" lengthAdjust="spacing">reconstruction to the concatenated nuclear phylogeny (<tspan class="cb">Figure 2A</tspan>) is highlighted in red on each tree.</text>
</g>
</svg>
